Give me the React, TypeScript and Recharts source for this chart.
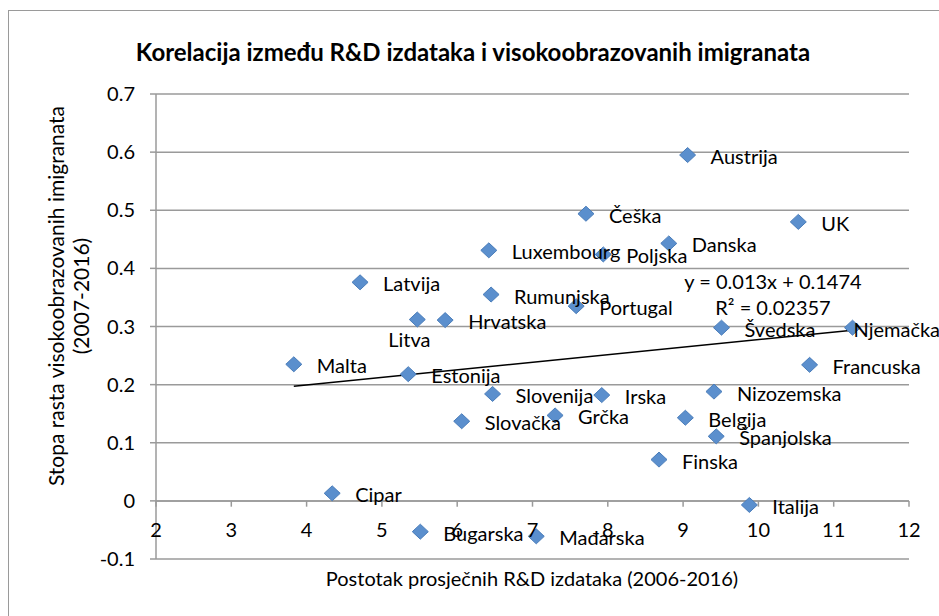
import React from "react";
import {
  ScatterChart,
  Scatter,
  XAxis,
  YAxis,
  CartesianGrid,
  ReferenceLine,
  ReferenceDot,
} from "recharts";

const countries = [
  "Malta", "Latvija", "Litva", "Hrvatska", "Luxembourg", "Rumunjska", "Cipar",
  "Bugarska", "Estonija", "Slovačka", "Slovenija", "Irska", "Grčka", "Nizozemska",
  "Belgija", "Španjolska", "Finska", "Italija", "Mađarska", "Francuska", "Austrija",
  "Češka", "UK", "Danska", "Poljska", "Portugal", "Švedska", "Njemačka",
];

// x: prosječni R&D izdaci (%)
const rdSpend = [
  3.83, 4.71, 5.47, 5.84, 6.42, 6.45, 4.34,
  5.51, 5.35, 6.06, 6.47, 7.92, 7.3, 9.41,
  9.03, 9.44, 8.68, 9.88, 7.05, 10.68, 9.06,
  7.71, 10.53, 8.81, 7.94, 7.58, 9.51, 11.25,
];

// y: stopa rasta visokoobrazovanih imigranata
const growthRate = [
  0.235, 0.376, 0.312, 0.311, 0.431, 0.355, 0.013,
  -0.053, 0.218, 0.137, 0.184, 0.182, 0.147, 0.188,
  0.143, 0.111, 0.071, -0.007, -0.061, 0.234, 0.595,
  0.494, 0.48, 0.443, 0.424, 0.335, 0.298, 0.298,
];

const xTicks = [2, 3, 4, 5, 6, 7, 8, 9, 10, 11, 12];
const yTicks = [-0.1, 0, 0.1, 0.2, 0.3, 0.4, 0.5, 0.6, 0.7];

// linear trend shown on the chart
const trendSlope = 0.013;
const trendIntercept = 0.1474;
const trendFrom = 3.83;
const trendTo = 11.25;

const data = countries.map((name, i) => ({
  name,
  x: rdSpend[i],
  y: growthRate[i],
}));

const GRAY = "#9a9a9a";
const FONT = "Lato, 'Open Sans', sans-serif";

const Diamond = (props: any) => {
  const { cx, cy } = props;
  if (cx == null || cy == null) return null;
  return (
    <polygon
      points={`${cx - 8},${cy} ${cx},${cy - 7.5} ${cx + 8},${cy} ${cx},${cy + 7.5}`}
      fill="#5b8fcd"
      stroke="#4a7dba"
      strokeWidth={1}
    />
  );
};

const PointLabel = (props: any) => {
  const { cx, cy, payload } = props;
  if (cx == null || cy == null) return null;
  let x = cx + 23;
  let y = cy + 1;
  let anchor = "start";
  if (payload.name === "Litva") {
    x = cx - 8;
    y = cy + 19;
    anchor = "middle";
  }
  if (payload.name === "Njemačka") x = cx + 1;
  return (
    <text
      x={x}
      y={y}
      textAnchor={anchor}
      dominantBaseline="central"
      fontFamily={FONT}
      fontSize={20}
      fill="#000"
    >
      {payload.name}
    </text>
  );
};

export default function App() {
  return (
    <div
      style={{
        position: "absolute",
        left: 0,
        top: 0,
        width: 939,
        height: 616,
        overflow: "hidden",
        background: "#fff",
        fontFamily: FONT,
      }}
    >
      {/* chart frame (runs off the picture on right and bottom) */}
      <div
        style={{
          position: "absolute",
          left: 8,
          top: 10,
          width: 1000,
          height: 700,
          border: `1.5px solid ${GRAY}`,
        }}
      />

      <div
        style={{
          position: "absolute",
          left: 0,
          width: 946,
          top: 36,
          textAlign: "center",
          fontWeight: 700,
          fontSize: 24,
          lineHeight: "32px",
        }}
      >
        Korelacija između R&amp;D izdataka i visokoobrazovanih imigranata
      </div>

      <div
        style={{
          position: "absolute",
          left: 68 - 250,
          top: 296 - 25,
          width: 500,
          height: 50,
          transform: "rotate(-90deg)",
          textAlign: "center",
          fontSize: 21,
          lineHeight: "25px",
        }}
      >
        Stopa rasta visokoobrazovanih imigranata
        <br />
        (2007-2016)
      </div>

      <div
        style={{
          position: "absolute",
          left: 232,
          width: 600,
          top: 564,
          textAlign: "center",
          fontSize: 20,
          lineHeight: "28px",
        }}
      >
        Postotak prosječnih R&amp;D izdataka (2006-2016)
      </div>

      <div
        style={{
          position: "absolute",
          left: 673,
          width: 200,
          top: 268,
          textAlign: "center",
          fontSize: 20,
          lineHeight: "26px",
        }}
      >
        y = 0.013x + 0.1474
        <br />
        R² = 0.02357
      </div>

      <div style={{ position: "absolute", left: 0, top: 0 }}>
        <ScatterChart
          width={939}
          height={616}
          margin={{ top: 94, right: 30, bottom: 57, left: 96 }}
        >
          <CartesianGrid
            horizontal
            vertical={false}
            stroke={GRAY}
            strokeWidth={1.5}
          />
          <XAxis
            type="number"
            dataKey="x"
            domain={[2, 12]}
            ticks={xTicks}
            hide
          />
          <YAxis
            type="number"
            dataKey="y"
            domain={[-0.1, 0.7]}
            ticks={yTicks}
            width={60}
            stroke={GRAY}
            strokeWidth={1.5}
            tickSize={6}
            tickMargin={15}
            tick={{ fill: "#000", fontSize: 20, fontFamily: FONT }}
            tickFormatter={(v: number) => String(Math.round(v * 10) / 10)}
          />

          {/* x axis crosses at y = 0 */}
          <ReferenceLine y={0} stroke={GRAY} strokeWidth={1.5} />
          {xTicks.map((t) => (
            <ReferenceLine
              key={`tk${t}`}
              segment={[
                { x: t, y: 0 },
                { x: t, y: -0.01 },
              ]}
              stroke={GRAY}
              strokeWidth={1.5}
            />
          ))}
          {xTicks.map((t) => (
            <ReferenceDot
              key={`tl${t}`}
              x={t}
              y={0}
              r={1}
              fill="none"
              stroke="none"
              label={{
                value: t,
                position: "bottom",
                offset: 21,
                fill: "#000",
                fontSize: 20,
                fontFamily: FONT,
              }}
            />
          ))}

          <ReferenceLine
            segment={[
              { x: trendFrom, y: trendSlope * trendFrom + trendIntercept },
              { x: trendTo, y: trendSlope * trendTo + trendIntercept },
            ]}
            stroke="#000"
            strokeWidth={1.5}
          />

          <Scatter data={data} shape={Diamond} isAnimationActive={false} />
          <Scatter data={data} shape={PointLabel} isAnimationActive={false} />
        </ScatterChart>
      </div>
    </div>
  );
}
